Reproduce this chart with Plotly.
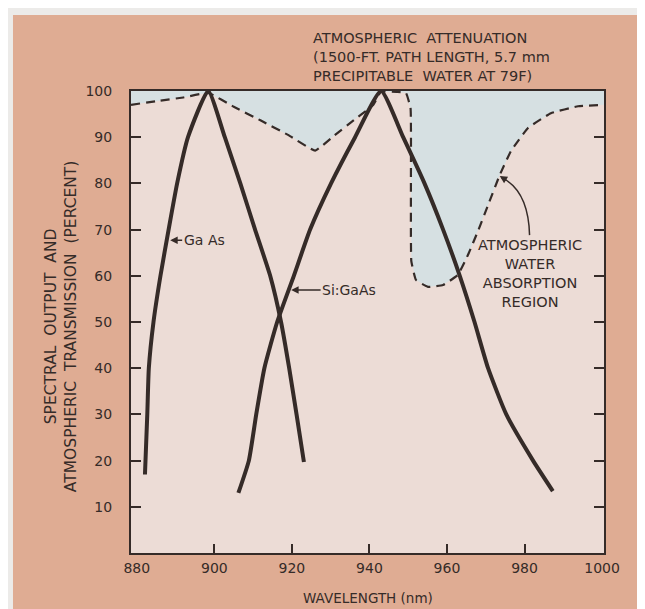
import plotly.graph_objects as go

# D A T O S   L E I D O S   D E L   G R A F I C O

# GaAs (nm, %)
gaas_x = [882.1, 882.7, 883.1, 884.3, 886.1, 888.2, 890.4, 893.2, 898.4,
          902.7, 906.7, 910.5, 914.4, 917.2, 919.3, 921.2, 923.1]
gaas_y = [17, 30, 40, 50, 60, 70, 80, 90, 100,
          90, 80, 70, 60, 50, 40, 30, 19.7]

# Si:GaAs (nm, %)
si_x = [906.2, 908.9, 910.8, 912.9, 916.2, 920.5, 924.7, 930.1, 936.3, 943.0,
        948.7, 954.2, 959.0, 963.3, 967.1, 970.6, 975.3, 982.2, 987.3]
si_y = [13, 20, 30, 40, 50, 60, 70, 80, 90, 100,
        90, 80, 70, 60, 50, 40, 30, 20, 13.4]

# Atenuacion atmosferica (nm, %)
atm_x = [878.5, 885, 892, 898.4, 905, 912, 919, 926, 931, 936, 941, 943.0, 947, 949.4,
         950.6, 950.7, 950.8, 952.0, 955.1, 959.0, 962.8, 965.4, 968.0, 970.6, 973.6,
         976.5, 980.9, 986.8, 993.8, 1000.5]
atm_y = [97.0, 97.8, 98.6, 99.6, 96.6, 93.6, 90.5, 87.1, 90.4, 93.7, 97.0, 99.9, 99.8, 99.6,
         96.3, 80.0, 63.2, 59.1, 57.6, 58.0, 60.2, 64.5, 69.7, 75.3, 81.8,
         87.0, 92.0, 95.2, 96.7, 97.0]

etiquetas_x = [880, 900, 920, 940, 960, 980, 1000]
ticks_x = [900, 920, 940, 960, 980]
etiquetas_y = [10, 20, 30, 40, 50, 60, 70, 80, 90, 100]

# Colores
tinta = '#352b28'
fondo = '#dfac93'
fondo_grafico = '#ecdcd6'
azul = '#d6e0e2'
fuente = 'DejaVu Sans'

fig = go.Figure()

# Region sombreada entre la atenuacion y el 100 %
fig.add_trace(go.Scatter(
    x=atm_x + [atm_x[-1], atm_x[0]],
    y=atm_y + [100, 100],
    fill='toself', fillcolor=azul,
    line=dict(width=0), mode='lines',
    hoverinfo='skip', showlegend=False,
))

# Curva de atenuacion (discontinua)
fig.add_trace(go.Scatter(
    x=atm_x, y=atm_y, mode='lines',
    line=dict(color=tinta, width=2.2, dash='9px,6px', shape='spline', smoothing=0.3),
    showlegend=False,
))

# Curvas de emision
for xs, ys in [(gaas_x, gaas_y), (si_x, si_y)]:
    fig.add_trace(go.Scatter(
        x=xs, y=ys, mode='lines',
        line=dict(color=tinta, width=4, shape='spline', smoothing=0.5),
        showlegend=False,
    ))

# Traza invisible para que se dibuje el eje de marcas inferiores
fig.add_trace(go.Scatter(
    x=[atm_x[0]], y=[atm_y[0]], mode='markers', marker=dict(opacity=0),
    xaxis='x2', hoverinfo='skip', showlegend=False,
))

fig.update_layout(
    width=645, height=609,
    margin=dict(l=123, r=49, t=83, b=64),
    paper_bgcolor=fondo,
    plot_bgcolor=fondo_grafico,
    font=dict(family=fuente, color=tinta, size=14),
    showlegend=False,
    xaxis=dict(
        range=[878.5, 1000.5], tickvals=etiquetas_x, ticks='',
        showline=True, linecolor=tinta, linewidth=2, mirror=True,
        showgrid=False, zeroline=False, ticklabelstandoff=1,
        tickfont=dict(size=14, color=tinta),
    ),
    xaxis2=dict(
        range=[878.5, 1000.5], overlaying='x', side='bottom',
        tickvals=ticks_x, ticks='inside', ticklen=9, tickwidth=2, tickcolor=tinta,
        showticklabels=False, showline=False, showgrid=False, zeroline=False,
    ),
    yaxis=dict(
        range=[0, 100], tickvals=etiquetas_y,
        ticks='inside', ticklen=10, tickwidth=2, tickcolor=tinta,
        showline=True, linecolor=tinta, linewidth=2, mirror='ticks',
        showgrid=False, zeroline=False, ticklabelstandoff=14,
        tickfont=dict(size=14, color=tinta),
    ),
)

# Titulos de ejes
fig.add_annotation(
    text='WAVELENGTH (nm)', xref='paper', yref='paper',
    x=0.5, y=-0.0974, xanchor='center', yanchor='middle',
    showarrow=False, font=dict(size=13.5),
)
fig.add_annotation(
    text='SPECTRAL  OUTPUT  AND<br>ATMOSPHERIC  TRANSMISSION  (PERCENT)',
    xref='paper', yref='paper', x=-0.149, y=0.49,
    xanchor='center', yanchor='middle', textangle=-90,
    showarrow=False, font=dict(size=15.5),
)

# Textos dentro del grafico
fig.add_annotation(
    text='ATMOSPHERIC  ATTENUATION<br>(1500-FT. PATH LENGTH, 5.7 mm<br>PRECIPITABLE  WATER AT 79F)',
    xref='paper', yref='paper', x=0.3805, y=1.0736,
    xanchor='left', yanchor='middle', align='left',
    showarrow=False, font=dict(size=14.5),
)
fig.add_annotation(
    text='ATMOSPHERIC<br>WATER<br>ABSORPTION<br>REGION',
    xref='paper', yref='paper', x=0.8436, y=0.606,
    xanchor='center', yanchor='middle', align='center',
    showarrow=False, font=dict(size=14.5),
)
fig.add_annotation(
    text='Ga As', x=888.6, y=67.7, ax=34, ay=0,
    showarrow=True, arrowhead=2, arrowsize=1, arrowwidth=1.5, arrowcolor=tinta,
    standoff=0, font=dict(size=14),
)
fig.add_annotation(
    text='Si:GaAs', x=919.8, y=56.9, ax=58, ay=0,
    showarrow=True, arrowhead=2, arrowsize=1, arrowwidth=1.5, arrowcolor=tinta,
    standoff=0, font=dict(size=14),
)

# Flechas curvas
fig.add_shape(type='path', path='M 924.2,107.8 Q 919.0,106.7 918.0,100.6',
              xref='x', yref='y', line=dict(color=tinta, width=1.5))
fig.add_annotation(text='', x=918.0, y=100.4, ax=0, ay=-8,
                   showarrow=True, arrowhead=2, arrowsize=1, arrowwidth=1.5,
                   arrowcolor=tinta, standoff=0)
fig.add_shape(type='path', path='M 981.3,68.8 Q 981.0,78.5 974.0,81.3',
              xref='x', yref='y', line=dict(color=tinta, width=1.5))
fig.add_annotation(text='', x=973.6, y=81.6, ax=8, ay=5,
                   showarrow=True, arrowhead=2, arrowsize=1, arrowwidth=1.5,
                   arrowcolor=tinta, standoff=0)

# Bordes blancos del escaneo
fig.add_shape(type='rect', xref='paper', yref='paper',
              x0=-0.3, x1=1.2, y0=1.1645, y1=1.25,
              fillcolor='#ecebe9', line=dict(width=0))
fig.add_shape(type='rect', xref='paper', yref='paper',
              x0=-0.3, x1=-0.2495, y0=-0.2, y1=1.25,
              fillcolor='#ecebe9', line=dict(width=0))

fig.write_html("out.html")
